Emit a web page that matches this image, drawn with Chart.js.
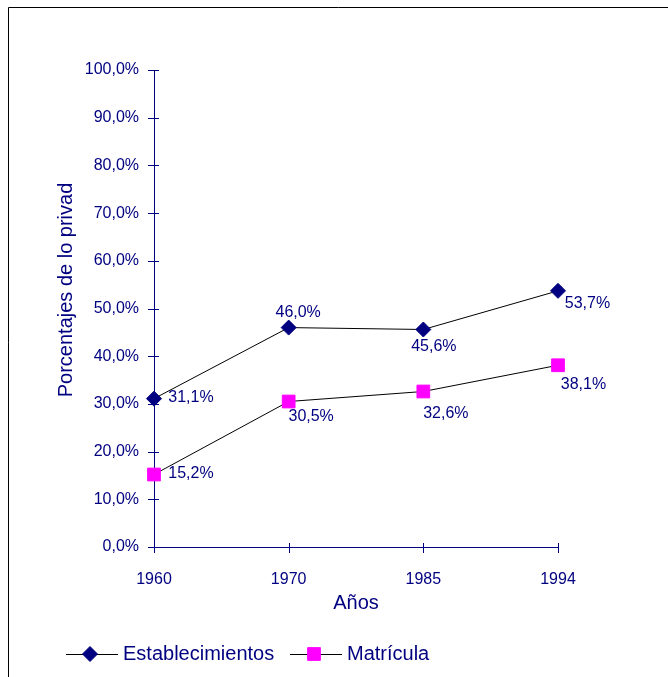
<!DOCTYPE html>
<html>
<head>
<meta charset="utf-8">
<script src="https://cdn.jsdelivr.net/npm/chart.js@4.4.1/dist/chart.umd.min.js"></script>
<style>
  html, body { margin: 0; padding: 0; background: #fff; }
  #wrap { width: 668px; height: 677px; }
</style>
</head>
<body>
<div id="wrap"><canvas id="grafico" width="668" height="677"></canvas></div>
<script>
// données
const annees = ['1960', '1970', '1985', '1994'];
const establecimientos = [31.1, 46.0, 45.6, 53.7];
const matricula = [15.2, 30.5, 32.6, 38.1];
const nomsSeries = ['Establecimientos', 'Matrícula'];

// décalage des étiquettes par rapport au point (centre du texte)
const decalEst = [[37, -1], [9.5, -14.5], [10.5, 17.5], [29.5, 13]];
const decalMat = [[37, -1], [22.5, 15.5], [22.5, 22.5], [25.5, 19.5]];

const BLEU = '#000080';
const ROSE = '#FF00FF';
const POLICE = '"Liberation Sans", Arial, sans-serif';

function fmt(v) {
  return v.toFixed(1).replace('.', ',') + '%';
}

// cadre, axes et petites graduations croisées
const pluginAxes = {
  id: 'axes',
  beforeDatasetsDraw(chart) {
    const ctx = chart.ctx;
    const x = chart.scales.x, y = chart.scales.y;
    const a = chart.chartArea;
    ctx.save();
    // cadre (haut + gauche seulement)
    ctx.strokeStyle = '#000';
    ctx.lineWidth = 1;
    ctx.beginPath();
    ctx.moveTo(8.5, 677);
    ctx.lineTo(8.5, 7.5);
    ctx.lineTo(668, 7.5);
    ctx.stroke();

    ctx.strokeStyle = BLEU;
    ctx.beginPath();
    ctx.moveTo(Math.round(a.left) + 0.5, a.top);
    ctx.lineTo(Math.round(a.left) + 0.5, a.bottom);
    ctx.moveTo(a.left, Math.round(a.bottom) + 0.5);
    ctx.lineTo(a.right, Math.round(a.bottom) + 0.5);
    y.ticks.forEach(t => {
      const py = Math.round(y.getPixelForValue(t.value)) + 0.5;
      ctx.moveTo(a.left - 6, py);
      ctx.lineTo(a.left + 5, py);
    });
    annees.forEach((_, i) => {
      const px = Math.round(x.getPixelForValue(i)) + 0.5;
      ctx.moveTo(px, a.bottom - 4);
      ctx.lineTo(px, a.bottom + 6);
    });
    ctx.stroke();

    // titres des axes
    ctx.fillStyle = BLEU;
    ctx.font = '20px ' + POLICE;
    ctx.textAlign = 'center';
    ctx.textBaseline = 'middle';
    ctx.fillText('Años', (a.left + a.right) / 2, 603);
    ctx.translate(66, 290);
    ctx.rotate(-Math.PI / 2);
    ctx.fillText('Porcentajes de lo privad', 0, 0);
    ctx.restore();
  },
  afterDatasetsDraw(chart) {
    const ctx = chart.ctx;
    ctx.save();
    ctx.fillStyle = BLEU;
    ctx.font = '16px ' + POLICE;
    ctx.textAlign = 'center';
    ctx.textBaseline = 'middle';
    [decalEst, decalMat].forEach((decal, d) => {
      const meta = chart.getDatasetMeta(d);
      const vals = chart.data.datasets[d].data;
      meta.data.forEach((pt, i) => {
        ctx.fillText(fmt(vals[i]), pt.x + decal[i][0], pt.y + decal[i][1]);
      });
    });

    // légende maison : trait + marqueur + texte
    const items = [
      { x: 66, style: 'rectRot', r: 7.5, c: BLEU, txt: nomsSeries[0] },
      { x: 290, style: 'rect', r: 9, c: ROSE, txt: nomsSeries[1] }
    ];
    const ly = 654;
    items.forEach(it => {
      ctx.strokeStyle = '#000';
      ctx.lineWidth = 1;
      ctx.beginPath();
      ctx.moveTo(it.x, ly + 0.5);
      ctx.lineTo(it.x + 52, ly + 0.5);
      ctx.stroke();
      ctx.fillStyle = it.c;
      ctx.strokeStyle = it.c;
      Chart.helpers.drawPoint(ctx, {
        pointStyle: it.style, radius: it.r, rotation: 0, borderWidth: 1
      }, it.x + 24, ly);
      ctx.fillStyle = BLEU;
      ctx.font = '20px ' + POLICE;
      ctx.textAlign = 'left';
      ctx.fillText(it.txt, it.x + 57, ly);
    });
    ctx.restore();
  }
};

const config = {
  type: 'line',
  data: {
    labels: annees,
    datasets: [{
      label: nomsSeries[0],
      data: establecimientos,
      borderColor: '#000',
      borderWidth: 1,
      pointStyle: 'rectRot',
      pointRadius: 7.5,
      pointBackgroundColor: BLEU,
      pointBorderColor: BLEU,
      pointBorderWidth: 1,
      tension: 0,
      clip: false
    }, {
      label: nomsSeries[1],
      data: matricula,
      borderColor: '#000',
      borderWidth: 1,
      pointStyle: 'rect',
      pointRadius: 9,
      pointBackgroundColor: ROSE,
      pointBorderColor: ROSE,
      pointBorderWidth: 1,
      tension: 0,
      clip: false
    }]
  },
  options: {
    responsive: false,
    animation: false,
    devicePixelRatio: 1,
    layout: { padding: { top: 70, right: 110, left: 0, bottom: 0 } },
    plugins: {
      legend: { display: false },
      tooltip: { enabled: false }
    },
    scales: {
      x: {
        type: 'category',
        offset: false,
        grid: { display: false, drawTicks: false },
        border: { display: false },
        ticks: { color: BLEU, font: { family: POLICE, size: 16 }, padding: 23, maxRotation: 0 },
        afterFit: s => { s.height = 130; }
      },
      y: {
        min: 0,
        max: 100,
        grid: { display: false, drawTicks: false },
        border: { display: false },
        ticks: {
          stepSize: 10,
          color: BLEU,
          font: { family: POLICE, size: 16 },
          padding: 15,
          callback: v => fmt(v)
        },
        afterFit: s => { s.width = 154; }
      }
    }
  },
  plugins: [pluginAxes]
};

const monGraphique = new Chart(document.getElementById('grafico'), config);
</script>
</body>
</html>
